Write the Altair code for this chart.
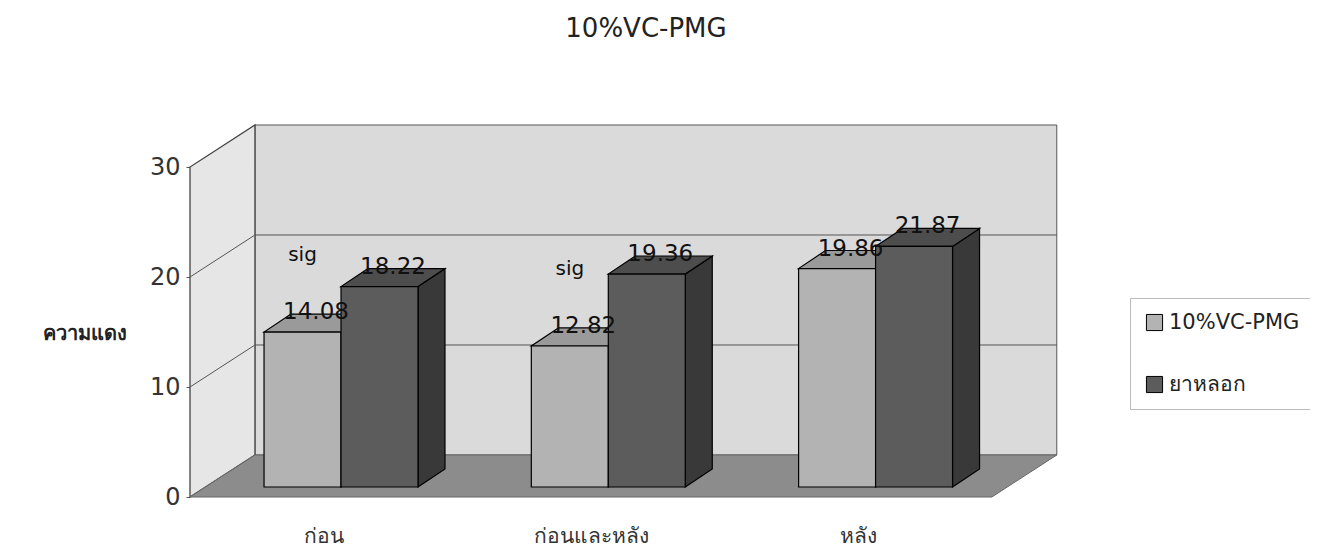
import altair as alt
import pandas as pd

# ---------------- data ----------------
categories = ["ก่อน", "ก่อนและหลัง", "หลัง"]
series = ["10%VC-PMG", "ยาหลอก"]
vc_values = [14.08, 12.82, 19.86]
placebo_values = [18.22, 19.36, 21.87]
sig_marks = ["sig", "sig", ""]
y_ticks = [0, 10, 20, 30]
chart_title = "10%VC-PMG"
y_title = "ความแดง"

# ---------------- styling / geometry (pseudo-3D) ----------------
FONT = "DejaVu Sans"
X_MAX = 3.255          # x domain (one unit = one category slot)
Y_MAX = 33.82          # y domain incl. depth of the box
WALL_DX, WALL_DY = 0.243, 3.82
FLOOR_W = 3.0
BAR_W = 0.288
BAR_DX, BAR_DY = 0.101, 1.64
GAP_DX, GAP_DY = 0.065, 0.91
AXIS_TOP = y_ticks[-1]

front_col = {series[0]: "#b3b3b3", series[1]: "#5c5c5c"}
top_col = {series[0]: "#9a9a9a", series[1]: "#4d4d4d"}
side_col = {series[0]: "#8c8c8c", series[1]: "#393939"}

xs = alt.Scale(domain=[0, X_MAX], nice=False, zero=False)
ys = alt.Scale(domain=[0, Y_MAX], nice=False, zero=False)

cat_js = "[" + ",".join(f"'{c}'" for c in categories) + "]"
X_AX = alt.Axis(values=[i + 0.5 for i in range(len(categories))],
                labelExpr=cat_js + "[floor(datum.value)]",
                domain=False, ticks=False, grid=False, labelPadding=28,
                labelFontSize=21, labelFont=FONT, labelColor="#333", title=None)
Y_AX = alt.Axis(values=y_ticks, domain=False, grid=False, tickSize=4,
                tickColor="#555", labelPadding=6, labelFontSize=24,
                labelFont=FONT, labelColor="#333", title=y_title,
                titleAngle=0, titleX=-106, titleY=208, titleAlign="center",
                titleBaseline="middle", titleFont=FONT, titleFontSize=20,
                titleFontWeight="bold", titleColor="#222")


def X(f):
    return alt.X(f, scale=xs, axis=X_AX)


def Y(f):
    return alt.Y(f, scale=ys, axis=Y_AX)


# ---------------- box (walls, floor, grid) ----------------
back_df = pd.DataFrame({"x": [WALL_DX], "x2": [FLOOR_W + WALL_DX],
                        "y": [WALL_DY], "y2": [AXIS_TOP + WALL_DY]})
left_df = pd.DataFrame({"x": [0, WALL_DX], "y": [0, WALL_DY],
                        "y2": [AXIS_TOP, AXIS_TOP + WALL_DY]})
floor_df = pd.DataFrame({"y": [0, WALL_DY], "x": [0, WALL_DX],
                         "x2": [FLOOR_W, FLOOR_W + WALL_DX]})
grid_rows = []
for v in y_ticks[1:-1]:
    grid_rows.append({"x": WALL_DX, "x2": FLOOR_W + WALL_DX, "y": v + WALL_DY, "y2": v + WALL_DY})
    grid_rows.append({"x": 0, "x2": WALL_DX, "y": v, "y2": v + WALL_DY})
grid_df = pd.DataFrame(grid_rows)

back = alt.Chart(back_df).mark_rect(fill="#dadada", stroke="#555", strokeWidth=1).encode(
    x=X("x:Q"), x2="x2:Q", y=Y("y:Q"), y2="y2:Q")
left = alt.Chart(left_df).mark_area(fill="#e6e6e6", stroke="#444", strokeWidth=1.3,
                                    orient="vertical").encode(
    x=X("x:Q"), y=Y("y:Q"), y2="y2:Q")
floor = alt.Chart(floor_df).mark_area(fill="#8c8c8c", stroke="#666", strokeWidth=1,
                                      orient="horizontal").encode(
    y=Y("y:Q"), x=X("x:Q"), x2="x2:Q")
grid = alt.Chart(grid_df).mark_rule(color="#555", strokeWidth=1).encode(
    x=X("x:Q"), x2="x2:Q", y=Y("y:Q"), y2="y2:Q")

# ---------------- bars ----------------
front_rows, top_rows, side_rows, lab_rows, sig_rows = [], [], [], [], []
for i, cat in enumerate(categories):
    c = i + 0.5 + GAP_DX
    for s, vals in zip(series, [vc_values, placebo_values]):
        v = vals[i]
        x0, x1 = (c - BAR_W, c) if s == series[0] else (c, c + BAR_W)
        bid = f"{i}-{s}"
        front_rows.append({"id": bid, "series": s, "x": x0, "x2": x1,
                           "y": GAP_DY, "y2": v + GAP_DY})
        top_rows += [
            {"id": bid, "fill": top_col[s], "y": v + GAP_DY, "x": x0, "x2": x1},
            {"id": bid, "fill": top_col[s], "y": v + GAP_DY + BAR_DY,
             "x": x0 + BAR_DX, "x2": x1 + BAR_DX},
        ]
        side_rows += [
            {"id": bid, "fill": side_col[s], "x": x1, "y": GAP_DY, "y2": v + GAP_DY},
            {"id": bid, "fill": side_col[s], "x": x1 + BAR_DX,
             "y": GAP_DY + BAR_DY, "y2": v + GAP_DY + BAR_DY},
        ]
        lab_rows.append({"x": (x0 + x1) / 2 + BAR_DX / 2, "y": v + GAP_DY + BAR_DY,
                         "label": f"{v:.2f}"})
        if s == series[0] and sig_marks[i]:
            sig_rows.append({"x": (x0 + x1) / 2, "y": v + GAP_DY + BAR_DY + 4.85,
                             "label": sig_marks[i]})

front_df = pd.DataFrame(front_rows)
top_df = pd.DataFrame(top_rows)
side_df = pd.DataFrame(side_rows)
lab_df = pd.DataFrame(lab_rows)
sig_df = pd.DataFrame(sig_rows)

sides = alt.Chart(side_df).mark_area(orient="vertical", stroke="black", strokeWidth=1.2).encode(
    x=X("x:Q"), y=Y("y:Q"), y2="y2:Q",
    detail="id:N", fill=alt.Fill("fill:N", scale=None))
tops = alt.Chart(top_df).mark_area(orient="horizontal", stroke="black", strokeWidth=1.2).encode(
    y=Y("y:Q"), x=X("x:Q"), x2="x2:Q",
    detail="id:N", fill=alt.Fill("fill:N", scale=None))
fronts = alt.Chart(front_df).mark_rect(stroke="black", strokeWidth=1.2).encode(
    x=X("x:Q"), x2="x2:Q", y=Y("y:Q"), y2="y2:Q",
    color=alt.Color("series:N",
                    scale=alt.Scale(domain=series, range=[front_col[s] for s in series]),
                    legend=alt.Legend(orient="none", legendX=940, legendY=173, title=None,
                                      symbolType="square", symbolSize=260,
                                      symbolStrokeColor="black", symbolStrokeWidth=1,
                                      labelFont=FONT, labelFontSize=21, labelColor="#222",
                                      rowPadding=40, padding=14, strokeColor="#bbb",
                                      labelLimit=400)),
)
labels = alt.Chart(lab_df).mark_text(font=FONT, fontSize=23, color="#111",
                                     baseline="alphabetic", dy=5).encode(
    x=X("x:Q"), y=Y("y:Q"), text="label:N")
sigs = alt.Chart(sig_df).mark_text(font=FONT, fontSize=20, color="#111",
                                   baseline="alphabetic").encode(
    x=X("x:Q"), y=Y("y:Q"), text="label:N")

chart = alt.layer(back, left, floor, grid, sides, tops, fronts, labels, sigs).properties(
    width=870, height=372,
    title=alt.TitleParams(chart_title, font=FONT, fontSize=26, fontWeight="normal",
                          color="#222", anchor="middle", dx=21, offset=80),
    autosize=alt.AutoSizeParams(type="none"),
    padding={"left": 182, "top": 117, "right": 250, "bottom": 70},
).configure_view(stroke=None)

chart.save("out.html", embed_options={"renderer": "svg", "actions": False})
